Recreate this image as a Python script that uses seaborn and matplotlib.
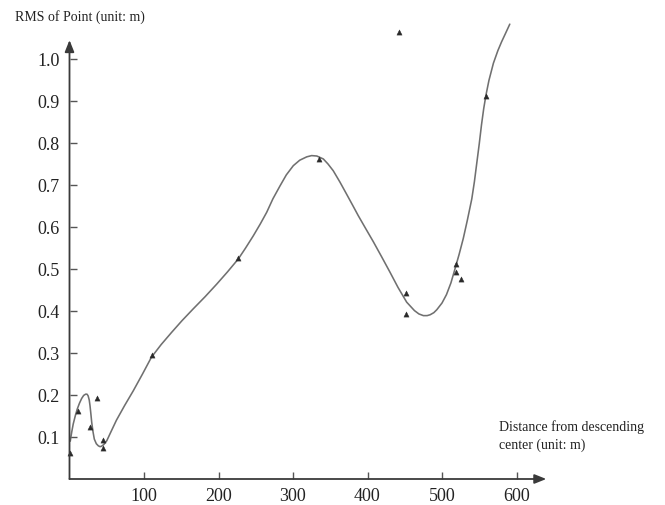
import matplotlib
matplotlib.use("Agg")
import matplotlib.pyplot as plt
import seaborn as sns
import pandas as pd

# Measured RMS of each check point against its distance from the descending center
dist_m = [1, 11, 36.5, 27.5, 44.5, 44.5, 110.7, 226, 335, 442, 452, 452, 519, 519, 526, 559]
rms_m = [0.062, 0.162, 0.192, 0.125, 0.093, 0.075, 0.295, 0.527, 0.762, 1.064,
         0.443, 0.393, 0.511, 0.493, 0.476, 0.913]

# Fitted trend curve (sampled along its length)
curve_x = [1, 3, 5, 8, 10.5, 13.5, 16.4, 19, 21.7, 23.5, 25, 26.5, 27.5, 28.7, 29.8, 31.5,
           33.3, 36, 38.7, 41, 43, 46, 50, 55, 63, 74, 85.6, 98, 110, 123, 137, 151, 166,
           182, 197.6, 212, 226.6, 236, 246.7, 256, 264.7, 273, 282.6, 291, 300.4, 309,
           318.4, 325, 332, 340.7, 347, 354, 363, 372, 380, 387.6, 397, 407.8, 419, 430,
           441, 452.6, 463, 469, 475, 480, 484, 489, 493, 500, 506, 512, 517.4, 523,
           528.6, 534, 540, 543.5, 546.6, 550, 553, 556, 559, 563, 569, 575, 580, 585, 591]
curve_y = [0.09, 0.112, 0.131, 0.152, 0.167, 0.181, 0.192, 0.199, 0.202, 0.202, 0.198,
           0.188, 0.175, 0.155, 0.135, 0.113, 0.095, 0.084, 0.079, 0.077, 0.078, 0.082,
           0.091, 0.11, 0.14, 0.175, 0.21, 0.25, 0.29, 0.32, 0.349, 0.377, 0.405, 0.434,
           0.464, 0.493, 0.524, 0.549, 0.579, 0.607, 0.635, 0.667, 0.698, 0.724, 0.746,
           0.759, 0.767, 0.77, 0.769, 0.762, 0.75, 0.734, 0.707, 0.678, 0.652, 0.627,
           0.598, 0.565, 0.529, 0.493, 0.456, 0.421, 0.401, 0.393, 0.389, 0.389, 0.391,
           0.396, 0.403, 0.419, 0.439, 0.467, 0.5, 0.535, 0.573, 0.616, 0.667, 0.708,
           0.751, 0.798, 0.843, 0.882, 0.914, 0.949, 0.99, 1.02, 1.041, 1.06, 1.083]

y_ticks = [0.1, 0.2, 0.3, 0.4, 0.5, 0.6, 0.7, 0.8, 0.9, 1.0]
y_tick_labels = ["0.1", "0.2", "0.3", "0.4", "0.5", "0.6", "0.7", "0.8", "0.9", "1.0"]
x_ticks = [100, 200, 300, 400, 500, 600]
x_tick_labels = ["100", "200", "300", "400", "500", "600"]

points = pd.DataFrame({"dist": dist_m, "rms": rms_m})
curve = pd.DataFrame({"dist": curve_x, "rms": curve_y})

sns.set_style("white")
plt.rcParams["font.family"] = ["Liberation Serif", "DejaVu Serif"]

fig = plt.figure(figsize=(6.65, 5.06), dpi=100)
W, H = 665, 506
x0_px, y0_px = 69.5, 480
px_per_x = 0.745
px_per_y = 420
xmax, ymax = 645, 1.1
ax = fig.add_axes([x0_px / W, (H - y0_px) / H, xmax * px_per_x / W, ymax * px_per_y / H])
ax.set_xlim(0, xmax)
ax.set_ylim(0, ymax)
ax.patch.set_alpha(0)

sns.lineplot(data=curve, x="dist", y="rms", sort=False, ax=ax, color="#707070",
             linewidth=1.15, clip_on=False, zorder=2, solid_joinstyle="round")
sns.scatterplot(data=points, x="dist", y="rms", ax=ax, marker="^", s=14,
                color="#2a2a2a", edgecolor="#2a2a2a", linewidth=0.3,
                clip_on=False, zorder=3)

for s in ax.spines.values():
    s.set_visible(False)

# Axis lines with arrow heads
arrow = dict(arrowstyle="-|>,head_length=0.7,head_width=0.28", color="#3a3a3a",
             lw=1.3, shrinkA=0, shrinkB=0)
ax.annotate("", xy=(640, 0), xytext=(0, 0), xycoords="data", arrowprops=arrow,
            annotation_clip=False)
ax.annotate("", xy=(0, 1.045), xytext=(0, 0), xycoords="data", arrowprops=arrow,
            annotation_clip=False)

ax.set_xticks(x_ticks)
ax.set_xticklabels(x_tick_labels)
ax.set_yticks(y_ticks)
ax.set_yticklabels(y_tick_labels)
ax.tick_params(axis="both", direction="in", length=5, width=1, color="#555555",
               labelsize=13, labelcolor="#222222", bottom=True, left=True)
ax.tick_params(axis="x", pad=6)
ax.tick_params(axis="y", pad=7)
ax.set_xlabel("")
ax.set_ylabel("")
ax.grid(False)

fig.text(15 / W, 1 - 17 / H, "RMS of Point (unit: m)", fontsize=10, color="#222222",
         ha="left", va="center")
fig.text(499 / W, 1 - 436 / H, "Distance from descending\ncenter (unit: m)", fontsize=10,
         color="#222222", ha="left", va="center", linespacing=1.45)

fig.savefig("out.png", dpi=100)
